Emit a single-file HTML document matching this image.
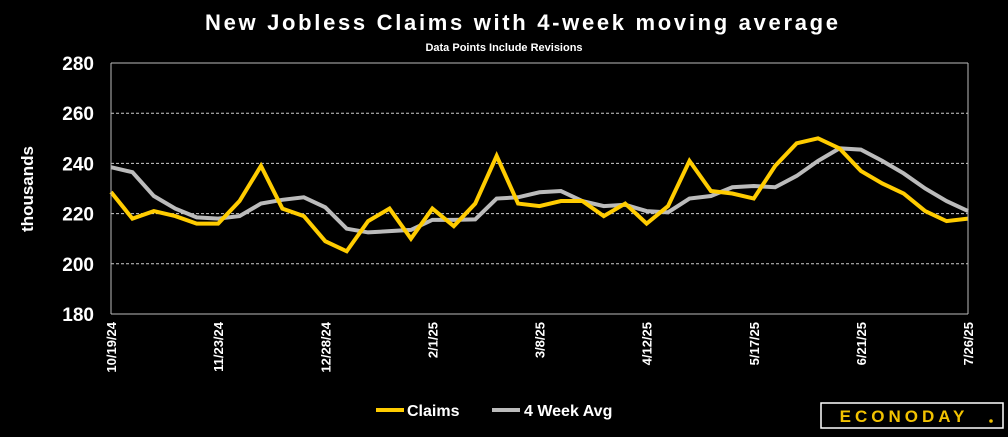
<!DOCTYPE html>
<html><head><meta charset="utf-8"><style>
body{margin:0;background:#000;width:1008px;height:432px;overflow:hidden;font-family:"Liberation Sans",sans-serif}
</style></head><body>
<svg width="1008" height="432" font-family="Liberation Sans, sans-serif">
<text x="205" y="30" fill="#fff" font-size="22" font-weight="bold" textLength="633" lengthAdjust="spacing">New Jobless Claims with 4-week moving average</text>
<text x="504" y="51" fill="#fff" font-size="11" font-weight="bold" text-anchor="middle">Data Points Include Revisions</text>
<text transform="translate(33,189) rotate(-90)" fill="#fff" font-size="17" font-weight="bold" text-anchor="middle">thousands</text>
<g id="grid"></g><g id="yt"></g><g id="xt"></g><g id="series"></g>
<line x1="111" y1="63" x2="111" y2="314" stroke="#bbb"/>
<line x1="968" y1="63" x2="968" y2="314" stroke="#bbb"/>
<line x1="111" y1="63" x2="968" y2="63" stroke="#bbb"/>
<g>
<line x1="376" y1="410" x2="404" y2="410" stroke="#ffcc00" stroke-width="4"/>
<text x="407" y="416" fill="#fff" font-size="16" font-weight="bold">Claims</text>
<line x1="492" y1="410" x2="520" y2="410" stroke="#bbb" stroke-width="4"/>
<text x="524" y="416" fill="#fff" font-size="16" font-weight="bold">4 Week Avg</text>
</g>
<g>
<rect x="821" y="403" width="182" height="25" fill="#000" stroke="#fff" stroke-width="1.5"/>
<text x="904" y="422" fill="#f2c200" font-size="17" font-weight="bold" text-anchor="middle" letter-spacing="4">ECONODAY</text>
<circle cx="991" cy="421" r="1.8" fill="#f2c200"/>
</g>
</svg>
<script>
const dates=["10/19/24","11/23/24","12/28/24","2/1/25","3/8/25","4/12/25","5/17/25","6/21/25","7/26/25"];
const yTicks=[180,200,220,240,260,280];
const claims=[228.6,218,221,219,216,216,225,239,222,219,209,205,217,222,210,222,215,224,243,224,223,225,225,219,224,216,223,241,229,228,226,239,248,250,246,237,232,228,221,217,218];
const avg4=[238.5,236.5,227,222,218.5,218,219,224,225.5,226.5,222.5,214,212.5,213,213.5,217.5,217.5,217.7,226,226.5,228.5,229,225,223,223.5,221,220.5,226,227,230.5,231,230.5,235,241,246,245.5,241,236,230,225,221];
const NS="http://www.w3.org/2000/svg";
const X0=111,X1=968,Y0=314,Y1=63;
const xs=i=>X0+(X1-X0)*i/(claims.length-1);
const ys=v=>Y0-(v-180)/100*(Y0-Y1);
function mk(t,a,p){const e=document.createElementNS(NS,t);for(const k in a)e.setAttribute(k,a[k]);document.getElementById(p).appendChild(e);return e;}
yTicks.forEach(v=>{
 if(v>180&&v<280){const l=mk('line',{x1:X0,x2:X1,y1:ys(v),y2:ys(v),stroke:'#ccc','stroke-dasharray':'3,2','stroke-width':1},'grid');
 
 }
 const t=mk('text',{x:94,y:ys(v)+7,fill:'#fff','font-size':19,'font-weight':'bold','text-anchor':'end'},'yt');t.textContent=v;
 
 
});
{const l=mk('line',{x1:X0,x2:X1,y1:Y0,y2:Y0,stroke:'#bbb'},'grid');

}
dates.forEach((d,k)=>{const x=xs(k*5);
 const t=mk('text',{transform:`translate(${x+5},322) rotate(-90)`,fill:'#fff','font-size':13,'font-weight':'bold','text-anchor':'end'},'xt');t.textContent=d;
 
 
});
function line(arr,c,name){const p=mk('polyline',{points:arr.map((v,i)=>xs(i)+','+ys(v)).join(' '),fill:'none',stroke:c,'stroke-width':4,'stroke-linejoin':'miter'},'series');
 
 }
line(avg4,'#bbb','avg-line');
line(claims,'#ffcc00','claims-line');
</script>
</body></html>
